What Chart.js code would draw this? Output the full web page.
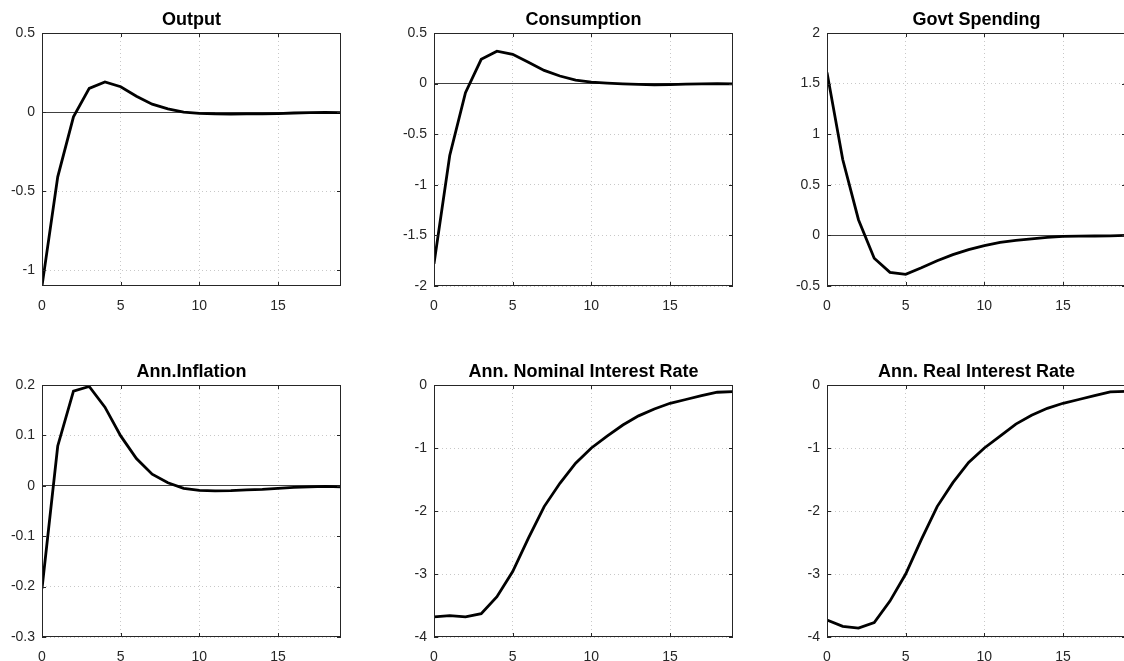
<!DOCTYPE html>
<html>
<head>
  <title>Impulse responses</title>
  <script src="https://cdn.jsdelivr.net/npm/chart.js"></script>
  <style>
    body { margin: 0; background: #fff; width: 1124px; height: 661px; overflow: hidden; position: relative; }
    canvas { position: absolute; }
  </style>
</head>
<body>

<script>
  // quarters after the shock
  const periods = [0, 1, 2, 3, 4, 5, 6, 7, 8, 9, 10, 11, 12, 13, 14, 15, 16, 17, 18, 19];

  const output = [-1.10, -0.41, -0.03, 0.15, 0.19, 0.16, 0.10, 0.05, 0.02, 0.00,
                  -0.008, -0.012, -0.013, -0.012, -0.012, -0.010, -0.006, -0.004, -0.002, -0.003];
  const consumption = [-1.78, -0.71, -0.09, 0.24, 0.32, 0.29, 0.21, 0.13, 0.075, 0.035,
                       0.015, 0.005, -0.003, -0.008, -0.012, -0.010, -0.006, -0.003, 0.000, -0.002];
  const govtSpending = [1.61, 0.75, 0.155, -0.225, -0.365, -0.385, -0.32, -0.25, -0.19, -0.14,
                        -0.10, -0.07, -0.05, -0.035, -0.02, -0.01, -0.008, -0.006, -0.004, 0.000];
  const inflation = [-0.204, 0.079, 0.188, 0.197, 0.156, 0.099, 0.054, 0.023, 0.006, -0.005,
                     -0.009, -0.010, -0.0095, -0.008, -0.007, -0.005, -0.003, -0.002, -0.001, -0.002];
  const nominalRate = [-3.68, -3.66, -3.68, -3.63, -3.36, -2.96, -2.43, -1.93, -1.56, -1.24,
                       -1.00, -0.81, -0.635, -0.49, -0.38, -0.29, -0.23, -0.17, -0.115, -0.105];
  const realRate = [-3.73, -3.83, -3.86, -3.77, -3.43, -3.00, -2.45, -1.93, -1.55, -1.23,
                    -1.00, -0.81, -0.62, -0.48, -0.37, -0.29, -0.23, -0.17, -0.11, -0.10];

  const titles = ['Output', 'Consumption', 'Govt Spending',
                  'Ann.Inflation', 'Ann. Nominal Interest Rate', 'Ann. Real Interest Rate'];
  const series = [output, consumption, govtSpending, inflation, nominalRate, realRate];
  const yMin = [-1.1, -2, -0.5, -0.3, -4, -4];
  const yMax = [0.5, 0.5, 2, 0.2, 0, 0];
  const yStep = [0.5, 0.5, 0.5, 0.1, 1, 1];
  const xMax = 19;
  const xStep = 5;

  // subplot placement (plot-area box in page pixels)
  const colLeft = [42, 434, 827];
  const rowTop = [33, 385];
  const rowHeight = [253, 252];
  const plotW = 299;
  const padL = 50, padT = 30, padR = 12, padB = 35;

  const axisColor = '#262626';

  // MATLAB-like box with inward tick marks
  const boxPlugin = {
    id: 'box',
    afterDatasetsDraw(chart) {
      const { ctx, chartArea: a, scales } = chart;
      ctx.save();
      ctx.strokeStyle = axisColor;
      ctx.lineWidth = 1;
      ctx.setLineDash([]);
      ctx.strokeRect(Math.round(a.left) + 0.5, Math.round(a.top) + 0.5,
                     Math.round(a.width) - 1, Math.round(a.height) - 1);
      const len = 4;
      ctx.beginPath();
      scales.x.ticks.forEach(t => {
        const px = Math.round(scales.x.getPixelForValue(t.value)) + 0.5;
        ctx.moveTo(px, a.bottom); ctx.lineTo(px, a.bottom - len);
        ctx.moveTo(px, a.top); ctx.lineTo(px, a.top + len);
      });
      scales.y.ticks.forEach(t => {
        const py = Math.round(scales.y.getPixelForValue(t.value)) + 0.5;
        ctx.moveTo(a.left, py); ctx.lineTo(a.left + len, py);
        ctx.moveTo(a.right, py); ctx.lineTo(a.right - len, py);
      });
      ctx.stroke();
      ctx.restore();
    }
  };

  const fmt = v => String(Math.round(v * 1000) / 1000);

  series.forEach((values, i) => {
    const row = Math.floor(i / 3), col = i % 3;
    const canvas = document.createElement('canvas');
    const w = padL + plotW + padR;
    const h = padT + rowHeight[row] + padB;
    canvas.width = w; canvas.height = h;
    canvas.style.left = (colLeft[col] - padL) + 'px';
    canvas.style.top = (rowTop[row] - padT) + 'px';
    canvas.style.width = w + 'px'; canvas.style.height = h + 'px';
    document.body.appendChild(canvas);

    new Chart(canvas.getContext('2d'), {
      type: 'line',
      data: {
        datasets: [{
          data: periods.map((p, k) => ({ x: p, y: values[k] })),
          borderColor: '#000',
          borderWidth: 2.8,
          pointRadius: 0,
          tension: 0
        }]
      },
      options: {
        responsive: false,
        animation: false,
        events: [],
        layout: { padding: { left: 0, right: padR, top: 0, bottom: 0 } },
        plugins: {
          legend: { display: false },
          tooltip: { enabled: false },
          title: {
            display: true,
            text: titles[i],
            fullSize: false,
            color: '#000',
            font: { family: 'Liberation Sans, Arial, sans-serif', size: 18, weight: 'bold', lineHeight: 1.2 },
            padding: { top: 6, bottom: 2.4 }
          }
        },
        scales: {
          x: {
            type: 'linear',
            min: 0,
            max: xMax,
            afterFit: s => { s.height = padB; },
            ticks: {
              stepSize: xStep,
              includeBounds: false,
              padding: 12,
              maxRotation: 0,
              color: axisColor,
              font: { family: 'Liberation Sans, Arial, sans-serif', size: 14 },
              callback: fmt
            },
            grid: { color: '#c8c8c8', lineWidth: 1, drawTicks: false },
            border: { display: false, dash: [1, 3] }
          },
          y: {
            min: yMin[i],
            max: yMax[i],
            afterFit: s => { s.width = padL; },
            ticks: {
              stepSize: yStep[i],
              includeBounds: false,
              padding: 7,
              color: axisColor,
              font: { family: 'Liberation Sans, Arial, sans-serif', size: 14 },
              callback: fmt
            },
            grid: {
              drawTicks: false,
              lineWidth: 1,
              color: c => (c.tick && Math.abs(c.tick.value) < 1e-9) ? '#404040' : '#c8c8c8'
            },
            border: {
              display: false,
              dash: c => (c.tick && Math.abs(c.tick.value) < 1e-9) ? [] : [1, 3]
            }
          }
        }
      },
      plugins: [boxPlugin]
    });
  });
</script>

</body>
</html>
